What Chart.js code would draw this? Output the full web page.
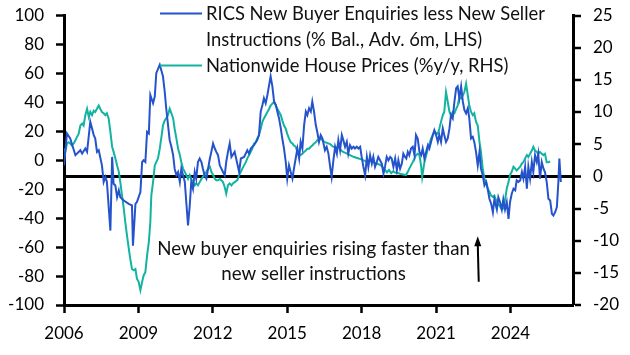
<!DOCTYPE html>
<html><head><meta charset="utf-8">
<script src="https://cdn.jsdelivr.net/npm/chart.js@4"></script>
<style>html,body{margin:0;padding:0;background:#fff}#wrap{width:630px;height:355px;position:relative}</style>
</head><body><div id="wrap"><canvas id="c" width="630" height="355"></canvas></div>
<script>
// RICS New Buyer Enquiries less New Seller Instructions (% bal., adv. 6m) - LHS
const ricsDates = [2006.00,2006.12,2006.25,2006.46,2006.66,2006.73,2006.86,2006.93,2007.06,2007.20,2007.26,2007.33,2007.40,2007.53,2007.60,2007.67,2007.73,2007.87,2007.94,2008.00,2008.07,2008.14,2008.21,2008.27,2008.41,2008.61,2008.74,2008.78,2008.88,2008.94,2009.08,2009.15,2009.21,2009.28,2009.35,2009.42,2009.48,2009.59,2009.66,2009.72,2009.86,2009.99,2010.06,2010.12,2010.26,2010.33,2010.40,2010.46,2010.53,2010.60,2010.67,2010.73,2010.80,2010.87,2010.93,2011.00,2011.07,2011.13,2011.20,2011.27,2011.33,2011.40,2011.47,2011.54,2011.60,2011.67,2011.74,2011.81,2011.88,2011.94,2012.01,2012.08,2012.14,2012.21,2012.28,2012.41,2012.48,2012.54,2012.61,2012.68,2012.75,2012.88,2013.06,2013.13,2013.26,2013.39,2013.46,2013.53,2013.66,2013.79,2013.86,2013.93,2014.00,2014.06,2014.13,2014.20,2014.27,2014.33,2014.40,2014.47,2014.54,2014.60,2014.67,2014.74,2014.80,2014.87,2014.94,2015.00,2015.07,2015.14,2015.21,2015.27,2015.34,2015.41,2015.48,2015.54,2015.61,2015.68,2015.75,2015.81,2015.88,2015.95,2016.01,2016.08,2016.15,2016.21,2016.28,2016.35,2016.42,2016.52,2016.59,2016.66,2016.73,2016.79,2016.86,2016.93,2017.00,2017.06,2017.13,2017.20,2017.26,2017.33,2017.40,2017.46,2017.53,2017.60,2017.67,2017.73,2017.80,2017.87,2017.94,2018.00,2018.07,2018.14,2018.21,2018.27,2018.34,2018.41,2018.47,2018.54,2018.61,2018.67,2018.81,2018.88,2018.94,2019.01,2019.08,2019.15,2019.21,2019.28,2019.35,2019.42,2019.48,2019.55,2019.62,2019.68,2019.75,2019.80,2019.86,2019.92,2019.99,2020.06,2020.13,2020.19,2020.26,2020.33,2020.40,2020.46,2020.53,2020.60,2020.67,2020.73,2020.80,2020.87,2020.93,2021.00,2021.07,2021.13,2021.20,2021.27,2021.33,2021.40,2021.47,2021.54,2021.60,2021.67,2021.74,2021.81,2021.87,2021.94,2022.01,2022.08,2022.14,2022.21,2022.28,2022.34,2022.41,2022.48,2022.54,2022.61,2022.68,2022.75,2022.81,2022.88,2022.95,2023.02,2023.08,2023.15,2023.22,2023.29,2023.35,2023.45,2023.51,2023.58,2023.65,2023.71,2023.78,2023.85,2023.92,2023.98,2024.05,2024.12,2024.19,2024.25,2024.32,2024.39,2024.46,2024.52,2024.59,2024.66,2024.72,2024.79,2024.86,2024.92,2024.99,2025.06,2025.12,2025.19,2025.26,2025.33,2025.39,2025.46,2025.53,2025.60,2025.67,2025.73,2025.80,2025.87,2025.93,2025.97,2026.03];
const ricsValues = [-3.5,18.5,15,3.5,6.9,4.6,8.1,5.8,26.6,17.4,15,5.8,6.9,-3.5,-15,-11.6,-15,-48.6,2.3,-16.2,-17.4,-25.5,-20.8,-25.5,-27.8,-30.1,-31.2,-59,-30.1,-28.9,-22,-1.2,0,-1.2,19.7,18.5,45.1,39.4,44,60.2,66,58,47.5,35.9,13.9,9.3,3.5,-5.8,-10.4,-8.1,-15,-5.8,-10.4,-15,-28.9,-45.1,-31.2,-15,-19.7,-8.1,-12.7,-1.2,1.2,-1.2,-5.8,-10.4,-12.7,-5.8,1.2,5.8,11.6,8.1,5.8,3.5,-3.5,-8.1,-10.4,-1.2,5.8,11.6,2.3,5.8,-8.1,1.2,2.3,6.9,4.6,8.1,10.4,13.9,17.4,33.6,38.2,42.9,39.4,45.1,52.1,58,51,40.5,38.2,33.6,28.9,22,15,8.1,-1.2,-12.7,-3.5,-8.1,-12.7,-5.8,1.2,8.1,1.2,12.7,8.1,24.3,33.6,31.2,35.9,33.6,40.5,33.6,24.3,19.7,12.7,17.4,15,6.9,9.3,4.6,-4.6,-11.6,0,9.3,4.6,13.9,6.9,17.4,13.9,9.3,12.7,4.6,10.4,8.1,9.3,8.1,9.3,8.1,9.3,2.3,-4.6,-10.4,2.3,-4.6,3.5,-2.3,2.3,-4.6,-1.2,2.3,-2.3,-9.3,-4.6,2.3,0,2.3,1.2,-4.6,1.2,-6.9,0,-5.8,-2.3,4.6,2.3,1.2,5.8,3.5,8.1,9.3,3.5,17.4,15,5.8,3.5,8.1,1.2,5.8,10.4,8.1,12.7,17.4,20.8,17.4,12.7,17.4,12.7,22,17.4,12.7,15,22,31.2,28.9,40.5,49.8,51,42.9,51,40.5,34.7,32.4,35.9,28.9,15,16.2,12.7,5.8,-3.5,5.8,-5.8,-10.4,-17.4,-15,-19.7,-26.6,-30,-36,-27,-34,-25.5,-29,-34,-27,-34,-29,-40.5,-29,-23.1,-19.7,-20.8,-13.9,-15,-13.9,-8.1,-12.7,-4.6,-19.7,-4.6,-12.7,-1.2,-8.1,3.5,-1.2,4.6,-12.7,-1.2,-5.8,-8.1,-15,-26.6,-27.8,-37,-38.2,-35.9,-32.4,-15,1.2,-15];

// Nationwide House Prices (%y/y) - RHS
const nationwideDates = [2006.00,2006.05,2006.12,2006.19,2006.25,2006.32,2006.39,2006.46,2006.52,2006.59,2006.66,2006.73,2006.79,2006.86,2006.93,2007.00,2007.06,2007.13,2007.20,2007.26,2007.33,2007.40,2007.46,2007.53,2007.60,2007.67,2007.73,2007.80,2007.87,2007.94,2008.00,2008.07,2008.14,2008.21,2008.27,2008.34,2008.41,2008.47,2008.54,2008.61,2008.67,2008.74,2008.81,2008.88,2008.94,2009.01,2009.08,2009.15,2009.21,2009.28,2009.35,2009.42,2009.48,2009.52,2009.59,2009.66,2009.72,2009.79,2009.86,2009.92,2009.99,2010.06,2010.12,2010.19,2010.26,2010.33,2010.40,2010.46,2010.53,2010.60,2010.67,2010.73,2010.80,2010.87,2010.93,2011.00,2011.07,2011.13,2011.20,2011.27,2011.33,2011.40,2011.47,2011.54,2011.60,2011.67,2011.74,2011.81,2011.88,2011.94,2012.01,2012.08,2012.14,2012.21,2012.28,2012.34,2012.41,2012.48,2012.54,2012.61,2012.68,2012.75,2012.81,2012.88,2012.99,2013.06,2013.13,2013.19,2013.26,2013.33,2013.39,2013.46,2013.53,2013.59,2013.66,2013.73,2013.79,2013.86,2013.93,2014.00,2014.06,2014.13,2014.20,2014.27,2014.33,2014.40,2014.47,2014.54,2014.60,2014.67,2014.74,2014.80,2014.87,2014.94,2015.00,2015.07,2015.14,2015.21,2015.27,2015.34,2015.41,2015.48,2015.54,2015.61,2015.68,2015.75,2015.81,2015.88,2015.95,2016.01,2016.08,2016.15,2016.21,2016.28,2016.35,2016.42,2016.52,2016.73,2016.85,2016.97,2017.05,2017.13,2017.25,2017.37,2017.53,2017.69,2017.85,2018.02,2018.18,2018.34,2018.46,2018.58,2018.74,2018.86,2018.94,2019.02,2019.10,2019.19,2019.27,2019.35,2019.47,2019.55,2019.67,2019.79,2019.86,2019.92,2019.99,2020.06,2020.13,2020.19,2020.26,2020.33,2020.40,2020.44,2020.53,2020.67,2020.80,2020.93,2021.07,2021.13,2021.20,2021.27,2021.33,2021.40,2021.47,2021.54,2021.60,2021.67,2021.74,2021.81,2021.87,2021.94,2022.01,2022.08,2022.14,2022.21,2022.28,2022.34,2022.41,2022.48,2022.54,2022.61,2022.68,2022.75,2022.81,2022.88,2022.95,2023.02,2023.08,2023.15,2023.22,2023.29,2023.35,2023.45,2023.58,2023.65,2023.71,2023.78,2023.85,2023.92,2023.98,2024.05,2024.12,2024.19,2024.25,2024.32,2024.39,2024.46,2024.52,2024.59,2024.66,2024.72,2024.79,2024.86,2024.92,2024.99,2025.06,2025.12,2025.19,2025.26,2025.33,2025.39,2025.46,2025.53,2025.60];
const nationwideValues = [4.3,3.8,5.1,5.3,5.1,4.8,5.1,5.6,6.1,6.6,7.9,8.2,7.9,9.5,10.5,9.2,10.0,9.5,10.2,10.0,10.5,11.0,10.5,10.0,9.8,9.5,9.8,9.0,6.9,4.6,3.8,2.8,1.7,0.7,-0.9,-3.0,-5.0,-7.1,-9.2,-11.2,-12.8,-14.4,-14.6,-14.4,-15.9,-16.4,-17.7,-16.4,-15.4,-14.9,-12.3,-10.2,-7.1,-3.0,-0.9,1.7,2.2,2.8,4.3,5.9,7.9,8.7,9.0,9.5,10.5,9.8,9.0,7.4,5.9,4.3,3.3,2.2,1.2,0.7,0.2,-0.4,0.2,-0.4,-0.9,-1.4,-1.1,-1.4,-0.9,-0.4,-0.1,0.4,0.7,1.2,1.5,0.7,0.2,-0.4,-0.6,-0.6,-0.4,-0.6,-0.9,-1.7,-2.7,-1.4,-1.1,-1.4,-1.1,-0.9,-0.6,0.2,0.7,1.2,1.7,2.2,2.8,3.3,3.8,4.3,5.1,5.3,5.9,6.4,7.4,8.5,9.0,9.5,10.0,10.5,11.0,11.3,11.6,11.0,10.5,10.0,9.5,8.7,7.9,7.4,6.6,5.9,5.3,5.1,4.8,4.6,3.8,3.3,3.3,3.5,3.8,4.0,4.3,4.3,4.6,4.8,5.1,5.3,5.6,5.6,5.9,5.6,5.3,5.0,4.6,4.4,4.7,4.2,3.8,3.6,3.3,3.0,2.8,2.6,2.3,2.4,2.2,2.0,1.8,1.4,1.0,0.6,1.0,0.5,0.8,0.6,0.5,0.4,0.3,0.2,0.7,1.2,1.7,2.2,2.8,3.3,3.5,3.3,1.5,-0.1,2.2,4.3,5.9,6.9,6.6,7.4,8.5,9.5,10.0,13.1,11.6,10.0,9.5,10.0,9.8,10.5,11.0,12.3,12.1,12.6,13.1,14.4,12.6,11.0,10.0,9.5,9.8,8.5,7.9,5.3,3.8,1.2,-0.4,-0.9,-1.9,-2.4,-3.0,-3.2,-3.0,-4.0,-4.7,-5.2,-5.0,-3.7,-1.9,-0.9,0.2,0.7,1.5,1.2,0.9,1.2,1.5,2.0,2.2,2.8,3.3,3.0,3.5,4.0,4.6,4.0,3.8,3.5,3.8,3.5,3.3,3.5,2.2,2.2,2.3];

const xTickYears = [2006, 2009, 2012, 2015, 2018, 2021, 2024];
const xRange = [2006, 2026.52];
const leftRange = [-100, 100], leftStep = 20;
const rightRange = [-20, 25], rightStep = 5;
const seriesLabels = ['RICS New Buyer Enquiries less New Seller Instructions (% Bal., Adv. 6m, LHS)', 'Nationwide House Prices (%y/y, RHS)'];
const legendLines = [['RICS New Buyer Enquiries less New Seller', 'Instructions (% Bal., Adv. 6m, LHS)'], ['Nationwide House Prices (%y/y, RHS)']];
const noteLines = ['New buyer enquiries rising faster than', 'new seller instructions'];
const noteAnchor = {x: 2016.06, y: -12.3};   // (year, RHS value)
const arrowSpec = {x0: 2022.72, y0: -16.4, x1: 2022.68, y1: -9.3}; // (year, RHS value)

const BLUE = '#2453cc', TEAL = '#12b3a0';
const FONT = 'Lato';

const toXY = (xs, ys) => xs.map((x, i) => ({x, y: ys[i]}));

const overlay = {
  id: 'overlay',
  afterDraw(chart) {
    const ctx = chart.ctx;
    const xs = chart.scales.x, yR = chart.scales.yR;
    ctx.save();
    const fit = (txt, w) => { ctx.font = '20px ' + FONT; return 20 * w / ctx.measureText(txt).width; };
    // legend
    const lsz = fit(legendLines[0][0], 339);
    ctx.font = lsz.toFixed(2) + 'px ' + FONT;
    ctx.fillStyle = '#111';
    ctx.textAlign = 'left';
    ctx.textBaseline = 'alphabetic';
    ctx.lineWidth = 2;
    ctx.strokeStyle = BLUE;
    ctx.beginPath(); ctx.moveTo(160, 13.5); ctx.lineTo(202, 13.5); ctx.stroke();
    ctx.fillText(legendLines[0][0], 206, 20);
    ctx.fillText(legendLines[0][1], 206, 45.5);
    ctx.strokeStyle = TEAL;
    ctx.beginPath(); ctx.moveTo(160, 65.5); ctx.lineTo(202, 65.5); ctx.stroke();
    ctx.fillText(legendLines[1][0], 206, 71.5);
    // note
    const nsz = fit(noteLines[0], 313);
    ctx.font = nsz.toFixed(2) + 'px ' + FONT;
    ctx.textAlign = 'center';
    const nx = xs.getPixelForValue(noteAnchor.x), ny = yR.getPixelForValue(noteAnchor.y);
    ctx.fillText(noteLines[0], nx, ny);
    ctx.fillText(noteLines[1], nx, ny + 25);
    // arrow
    const ax0 = xs.getPixelForValue(arrowSpec.x0), ay0 = yR.getPixelForValue(arrowSpec.y0);
    const ax1 = xs.getPixelForValue(arrowSpec.x1), ay1 = yR.getPixelForValue(arrowSpec.y1);
    ctx.strokeStyle = '#000'; ctx.fillStyle = '#000'; ctx.lineWidth = 2;
    ctx.beginPath(); ctx.moveTo(ax0, ay0); ctx.lineTo(ax1, ay1 + 8); ctx.stroke();
    ctx.beginPath(); ctx.moveTo(ax1, ay1); ctx.lineTo(ax1 - 3.5, ay1 + 10); ctx.lineTo(ax1 + 3.5, ay1 + 10); ctx.closePath(); ctx.fill();
    ctx.restore();
  }
};

const tickFont = {family: FONT, size: 17};
const axisGrid = {drawOnChartArea: false, drawTicks: true, tickLength: 8, tickWidth: 2.5, tickColor: '#000'};
const axisBorder = {display: true, color: '#000', width: 3};
const fitY = w => s => { s.width = w; s.paddingTop = 15.5; s.paddingBottom = 0; };

new Chart(document.getElementById('c'), {
  type: 'line',
  data: {
    datasets: [
      {label: seriesLabels[0], data: toXY(ricsDates, ricsValues), yAxisID: 'yL', borderColor: BLUE, borderWidth: 2, pointRadius: 0, tension: 0, fill: false},
      {label: seriesLabels[1], data: toXY(nationwideDates, nationwideValues), yAxisID: 'yR', borderColor: TEAL, borderWidth: 2, pointRadius: 0, tension: 0, fill: false}
    ]
  },
  options: {
    responsive: false, animation: false, devicePixelRatio: 1,
    layout: {padding: {top: 0, left: 0, right: 0, bottom: 0}},
    plugins: {legend: {display: false}, tooltip: {enabled: false}},
    scales: {
      x: {
        type: 'linear', position: 'bottom', min: xRange[0], max: xRange[1],
        afterBuildTicks: s => { s.ticks = xTickYears.map(v => ({value: v})); },
        afterFit: s => { s.height = 50; },
        ticks: {font: tickFont, color: '#000', padding: 10, maxRotation: 0, autoSkip: false, callback: v => String(v)},
        grid: axisGrid, border: axisBorder
      },
      yL: {
        type: 'linear', position: 'left', min: leftRange[0], max: leftRange[1],
        afterFit: fitY(64),
        ticks: {stepSize: leftStep, font: tickFont, color: '#000', padding: 12, callback: v => String(v)},
        grid: axisGrid, border: axisBorder
      },
      yR: {
        type: 'linear', position: 'right', min: rightRange[0], max: rightRange[1],
        afterFit: fitY(57),
        ticks: {stepSize: rightStep, font: tickFont, color: '#000', padding: 12, callback: v => String(v)},
        grid: {drawOnChartArea: true, drawTicks: true, tickLength: 8, tickWidth: 2.5, tickColor: '#000',
               color: c => (c.tick && c.tick.value === 0) ? '#000' : 'rgba(0,0,0,0)',
               lineWidth: c => (c.tick && c.tick.value === 0) ? 3 : 0},
        border: axisBorder
      }
    }
  },
  plugins: [overlay]
});
</script></body></html>
